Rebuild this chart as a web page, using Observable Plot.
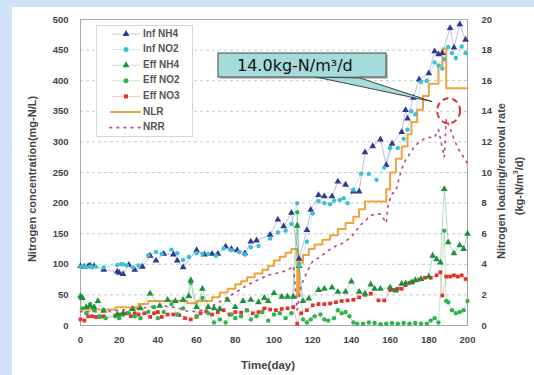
<!DOCTYPE html>
<html><head><meta charset="utf-8">
<script src="https://cdn.jsdelivr.net/npm/d3@7"></script>
<script src="https://cdn.jsdelivr.net/npm/@observablehq/plot@0.6"></script>
<style>
html,body{margin:0;padding:0;background:#cfe1f5;width:534px;height:375px;overflow:hidden}
#panel{position:absolute;left:12px;top:7px;width:522px;height:368px;background:#fff}
#chart{position:absolute;left:0;top:0}
</style></head><body><div id="panel"></div><div id="chart"></div>
<script>
// ---------- data ----------
const xTicks = [0,20,40,60,80,100,120,140,160,180,200];
const leftTicks = [0,50,100,150,200,250,300,350,400,450,500];
const rightFactor = 25; // right axis 0-20 mapped to left 0-500

const infNH4Day = [0,2,4,5,7,12,19,20,22,25,28,32,36,39,43,48,50,53,60,64,68,71,75,78,81,85,88,91,98,102,105,109,113,117,119,123,126,130,133,137,141,144,147,151,155,158,161,166,168,169,172,175,180,183,185,187,191,193,196,199];
const infNH4    = [97,96,97,98,97,91,88,86,84,99,91,96,114,106,117,116,106,95,123,116,117,117,129,125,123,118,137,139,148,173,162,184,109,156,189,213,211,211,235,230,219,219,283,293,304,262,297,316,352,338,372,402,412,448,443,445,486,454,492,467];

const infNO2Day = [0,2,3,5,6,8,12,19,21,22,24,27,30,35,39,42,47,50,53,56,60,63,66,70,74,78,82,85,88,92,98,102,106,109,112,113,117,120,123,126,129,131,134,136,138,141,145,149,153,157,160,164,167,169,171,173,176,179,183,185,187,188,190,192,194,197,199];
const infNO2    = [96,96,95,96,95,96,95,99,100,100,98,95,98,115,120,117,124,118,107,112,118,117,117,114,126,123,120,116,128,130,142,152,155,166,200,98,137,183,203,200,198,204,205,208,200,222,248,248,238,258,290,290,305,320,350,345,398,400,430,425,420,435,455,445,437,456,445];

const effNH4Day = [0,1,3,5,7,9,12,19,22,27,31,36,41,45,49,53,56,57,60,63,66,69,72,76,80,84,88,92,95,97,100,104,107,110,112,113,115,118,123,126,130,133,137,140,144,147,150,152,155,160,163,166,168,171,173,176,180,182,184,186,188,190,193,196,198,200];
const effNH4    = [48,45,30,32,30,40,24,18,20,27,28,52,32,42,40,42,48,74,30,60,30,28,27,42,30,40,42,38,45,40,53,47,47,47,163,97,40,44,58,60,62,55,55,72,55,52,67,60,60,62,57,68,69,70,74,76,80,114,108,103,223,136,118,131,125,150];

const effNO2Day = [0,1,3,5,7,10,13,18,20,22,25,28,31,35,38,40,43,47,50,53,57,60,63,66,69,72,75,78,80,83,86,88,91,94,97,100,103,106,109,112,113,115,117,119,121,124,126,128,131,133,135,137,139,141,143,146,149,152,155,158,161,164,167,170,173,176,179,181,183,185,188,189,190,192,194,196,198,200];
const effNO2    = [45,28,20,35,25,15,12,15,12,18,20,15,12,22,30,12,22,35,18,28,70,15,45,20,5,10,5,18,12,15,25,10,15,22,8,18,20,12,20,185,97,10,5,10,15,18,10,8,12,25,20,22,15,5,3,3,5,4,2,3,4,3,4,3,4,3,3,8,12,5,155,40,38,25,20,22,25,40];

const effNO3Day = [0,2,4,6,8,10,12,18,20,22,24,26,28,30,33,36,38,40,42,45,48,51,54,57,60,62,65,68,71,74,77,80,83,86,89,92,95,98,101,104,107,110,112,114,117,120,123,126,129,132,135,138,141,144,147,150,154,157,160,162,164,166,168,170,172,175,178,181,184,186,187,189,191,193,195,197,199];
const effNO3    = [10,8,15,15,14,14,15,16,18,18,20,15,20,18,20,14,20,22,14,18,18,17,12,10,14,20,23,18,22,25,18,22,21,25,20,22,28,26,25,27,28,30,3,20,25,33,35,35,36,38,40,41,42,46,50,52,41,41,58,58,60,60,66,70,72,75,78,78,82,87,49,80,80,82,80,82,76];

const nlrDay = [0,18,30,35,55,60,68,72,76,80,83,86,90,94,97,100,103,106,109,112,113,115,118,121,125,129,133,137,141,144,147,158,160,163,166,169,171,174,177,180,185,187,189,200];
const nlr    = [1.05,1.2,1.4,1.6,1.45,1.6,1.85,2.15,2.4,2.7,2.9,3.15,3.4,3.65,3.9,4.25,4.5,4.75,5.0,1.9,4.1,4.6,5.0,5.3,5.6,5.9,6.3,6.7,7.1,7.6,8.1,8.9,10.0,10.9,11.7,12.5,13.3,14.1,15.0,15.8,17.0,18.1,15.5,15.5];

const nrrDay = [0,5,10,15,20,25,30,35,40,45,50,55,60,65,70,74,78,82,87,92,97,101,104,107,110,112,114,117,120,124,128,132,136,140,145,150,155,158,159,161,163,165,167,169,172,175,179,183,185,187,188,189,191,193,195,198,200];
const nrr    = [0.9,0.9,0.9,0.95,1.0,1.05,1.1,1.2,1.3,1.25,1.15,0.95,0.9,1.1,1.4,1.7,2.0,2.3,2.7,3.0,3.3,3.4,3.5,3.6,3.9,1.0,2.6,3.5,4.2,4.5,4.9,5.2,5.4,5.8,6.6,7.2,7.3,6.7,7.9,8.6,8.8,9.8,10.6,11.0,11.6,12.0,12.3,12.3,12.8,11.6,11.0,13.5,12.9,12.2,11.6,11.0,10.6];

const legendLabels = ["Inf NH4","Inf NO2","Eff NH4","Eff NO2","Eff NO3","NLR","NRR"];
const calloutText = "14.0kg-N/m³/d";

// ---------- build ----------
const rows = (days, vals, f = 1) => days.map((d, i) => ({day: d, v: vals[i] * f}));
const sInfNH4 = rows(infNH4Day, infNH4), sInfNO2 = rows(infNO2Day, infNO2);
const sEffNH4 = rows(effNH4Day, effNH4), sEffNO2 = rows(effNO2Day, effNO2), sEffNO3 = rows(effNO3Day, effNO3);
const sNLR = rows(nlrDay, nlr, rightFactor), sNRR = rows(nrrDay, nrr, rightFactor);

const C = {infNH4:"#2e3a92", infNO2:"#3cc0d2", effNH4:"#1c903a", effNO2:"#2fb34b", effNO3:"#e5302b", nlr:"#f2a23c", nrr:"#c4478e"};
const FONT = "'Liberation Sans', Arial, sans-serif";

const thin = (data, color) => Plot.line(data, {x:"day", y:"v", stroke:color, strokeWidth:0.8, strokeOpacity:0.4});
const dots = (data, color, symbol, r) => Plot.dot(data, {x:"day", y:"v", fill:color, symbol, r, stroke:"none"});

const plot = Plot.plot({
  width:534, height:375, marginLeft:80, marginRight:67, marginTop:19, marginBottom:50,
  style:{background:"transparent", fontFamily:FONT, fontSize:"9.5px", color:"#333"},
  x:{domain:[0,200]},
  y:{domain:[0,500]},
  marks:[
    Plot.gridY(leftTicks.slice(1, -1), {stroke:"#c8c8c8", strokeDasharray:"3,3", strokeOpacity:1}),
    Plot.frame({stroke:"#a8a8a8"}),
    Plot.axisX({ticks:xTicks, tickSize:0, tickPadding:11, label:null, fontWeight:"bold", fill:"#444"}),
    Plot.axisY({ticks:leftTicks, tickSize:0, tickPadding:12, label:null, fontWeight:"bold", fill:"#444"}),
    Plot.axisY({ticks:leftTicks, anchor:"right", tickSize:0, tickPadding:14, tickFormat:d => d / rightFactor, label:null, fontWeight:"bold", fill:"#444"}),
    Plot.line(sNLR, {x:"day", y:"v", stroke:C.nlr, strokeWidth:2, curve:"step-after"}),
    Plot.line(sNRR, {x:"day", y:"v", stroke:C.nrr, strokeWidth:1.7, strokeDasharray:"1.6,5.5", strokeLinecap:"round"}),
    thin(sEffNO3, C.effNO3), thin(sEffNO2, C.effNO2), thin(sEffNH4, C.effNH4),
    thin(sInfNO2, C.infNO2), thin(sInfNH4, C.infNH4),
    dots(sEffNO3, C.effNO3, "square", 2.1),
    dots(sEffNO2, C.effNO2, "circle", 2.2),
    dots(sEffNH4, C.effNH4, "triangle", 2.5),
    dots(sInfNH4, C.infNH4, "triangle", 2.5),
    dots(sInfNO2, C.infNO2, "circle", 2.2)
  ]
});
document.getElementById("chart").appendChild(plot);

const svg = d3.select(plot);
const xs = plot.scale("x"), ys = plot.scale("y");

// axis titles
svg.append("text").attr("transform", "translate(36,179) rotate(-90)").attr("text-anchor","middle")
  .attr("font-family", FONT).attr("font-size", 11).attr("font-weight","bold").attr("fill","#444").text("Nitrogen concentration(mg-N/L)");
svg.append("text").attr("transform", "translate(502,181) rotate(-90)").attr("text-anchor","middle").attr("dominant-baseline","middle")
  .attr("font-family", FONT).attr("font-size", 11).attr("font-weight","bold").attr("fill","#444").text("Nitrogen loading/removal rate");
const t2 = svg.append("text").attr("transform", "translate(520,186) rotate(-90)").attr("text-anchor","middle").attr("dominant-baseline","middle")
  .attr("font-family", FONT).attr("font-size", 11).attr("font-weight","bold").attr("fill","#444");
t2.append("tspan").text("(kg-N/m");
t2.append("tspan").attr("font-size", 7).attr("dy", -4).text("3");
t2.append("tspan").attr("dy", 4).text("/d)");
svg.append("text").attr("x", 268).attr("y", 369).attr("text-anchor","middle")
  .attr("font-family", FONT).attr("font-size", 11.5).attr("font-weight","bold").attr("fill","#444").text("Time(day)");

// legend
const lg = svg.append("g");
lg.append("rect").attr("x", 96.5).attr("y", 25.5).attr("width", 96).attr("height", 111).attr("fill","#fff").attr("stroke","#d6d6d6");
const legColors = [C.infNH4, C.infNO2, C.effNH4, C.effNO2, C.effNO3, C.nlr, C.nrr];
const legSym = [d3.symbolTriangle, d3.symbolCircle, d3.symbolTriangle, d3.symbolCircle, d3.symbolSquare, null, null];
legendLabels.forEach((lab, i) => {
  const y = 34 + i * 15.6;
  if (i < 5) {
    lg.append("line").attr("x1", 112).attr("x2", 140).attr("y1", y).attr("y2", y).attr("stroke", legColors[i]).attr("stroke-opacity", 0.35).attr("stroke-width", 0.8);
    lg.append("path").attr("d", d3.symbol(legSym[i], i === 4 ? 16 : 20)()).attr("transform", `translate(126,${y})`).attr("fill", legColors[i]);
  } else if (i === 5) {
    lg.append("line").attr("x1", 110).attr("x2", 141).attr("y1", y).attr("y2", y).attr("stroke", legColors[i]).attr("stroke-width", 2);
  } else {
    lg.append("line").attr("x1", 110).attr("x2", 141).attr("y1", y).attr("y2", y).attr("stroke", legColors[i]).attr("stroke-width", 1.7).attr("stroke-dasharray","1.6,5.5").attr("stroke-linecap","round");
  }
  lg.append("text").attr("x", 143).attr("y", y).attr("text-anchor","start").attr("dominant-baseline","middle").attr("font-family", FONT)
    .attr("font-size", 10).attr("font-weight","bold").attr("fill","#555").text(lab);
});

// callout and circle anchored to data
const tipX = xs.apply(182), tipY = ys.apply(14.6 * rightFactor);
const cg = svg.append("g");
cg.append("rect").attr("x", 220).attr("y", 55).attr("width", 168).attr("height", 24).attr("fill","#888").attr("opacity",0.5);
cg.append("path").attr("d", `M316,77 L${tipX},${tipY} L360,78 Z`).attr("fill","#a6dbdc").attr("stroke","#444").attr("stroke-width",1);
cg.append("rect").attr("x", 218).attr("y", 53).attr("width", 168).attr("height", 24).attr("fill","#a6dbdc").attr("stroke","#444").attr("stroke-width",1);
cg.append("rect").attr("x", 317).attr("y", 75).attr("width", 42).attr("height", 1.5).attr("fill","#a6dbdc");
cg.append("text").attr("x", 237).attr("y", 71).attr("text-anchor","start").attr("font-family","'DejaVu Sans', sans-serif").attr("font-size", 16).attr("fill","#111").text(calloutText);
svg.append("ellipse").attr("cx", xs.apply(190.5)).attr("cy", ys.apply(14.0 * rightFactor)).attr("rx", 11.5).attr("ry", 12.5)
  .attr("fill","none").attr("stroke","#e0302a").attr("stroke-width",2).attr("stroke-dasharray","6,4");
</script></body></html>
